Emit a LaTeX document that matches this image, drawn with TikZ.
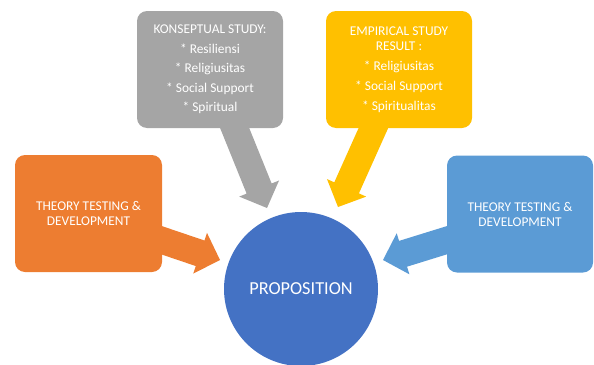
\documentclass[tikz,border=0pt]{standalone}
\usepackage{fontspec}
\setmainfont{Carlito}
\usetikzlibrary{calc}
\definecolor{cgray}{HTML}{A5A5A5}
\definecolor{cyellow}{HTML}{FFC000}
\definecolor{corange}{HTML}{ED7D31}
\definecolor{clight}{HTML}{5B9BD5}
\definecolor{cdark}{HTML}{4472C4}

\begin{document}
\begin{tikzpicture}[x=1pt,y=-1pt, every node/.style={font=\fontsize{13.4}{15}\selectfont,text=white,align=center},box/.style={rounded corners=10pt,minimum width=146pt,minimum height=117pt,inner sep=0pt},prop/.style={circle,fill=cdark,minimum size=154pt,inner sep=0pt,font=\fontsize{18.3}{21}\selectfont},]
\useasboundingbox (0,0) rectangle (594,364);
% arrow ends
\coordinate (o0) at (155,238);
\coordinate (o1) at (220,260);
\coordinate (g0) at (231,119);
\coordinate (g1) at (267,208);
\coordinate (y0) at (377,120);
\coordinate (y1) at (338,207);
\coordinate (b0) at (454,238);
\coordinate (b1) at (383,260);
\coordinate (ob) at ($(o1)!21pt!(o0)$);
\coordinate (gb) at ($(g1)!21pt!(g0)$);
\coordinate (yb) at ($(y1)!21pt!(y0)$);
\coordinate (bb) at ($(b1)!21pt!(b0)$);
\fill[corange] ($(o0)!13.5pt!90:(o1)$) -- ($(ob)!13.5pt!-90:(o0)$) -- ($(ob)!21.5pt!-90:(o0)$) -- (o1) -- ($(ob)!21.5pt!90:(o0)$) -- ($(ob)!13.5pt!90:(o0)$) -- ($(o0)!13.5pt!-90:(o1)$) -- cycle;
\fill[cgray] ($(g0)!13.5pt!90:(g1)$) -- ($(gb)!13.5pt!-90:(g0)$) -- ($(gb)!21.5pt!-90:(g0)$) -- (g1) -- ($(gb)!21.5pt!90:(g0)$) -- ($(gb)!13.5pt!90:(g0)$) -- ($(g0)!13.5pt!-90:(g1)$) -- cycle;
\fill[cyellow] ($(y0)!13.5pt!90:(y1)$) -- ($(yb)!13.5pt!-90:(y0)$) -- ($(yb)!21.5pt!-90:(y0)$) -- (y1) -- ($(yb)!21.5pt!90:(y0)$) -- ($(yb)!13.5pt!90:(y0)$) -- ($(y0)!13.5pt!-90:(y1)$) -- cycle;
\fill[clight] ($(b0)!13.5pt!90:(b1)$) -- ($(bb)!13.5pt!-90:(b0)$) -- ($(bb)!21.5pt!-90:(b0)$) -- (b1) -- ($(bb)!21.5pt!90:(b0)$) -- ($(bb)!13.5pt!90:(b0)$) -- ($(b0)!13.5pt!-90:(b1)$) -- cycle;
% boxes
\node[box,fill=cgray] (konsep) at (210,69.5) {KONSEPTUAL STUDY:\\[4.5pt] * Resiliensi\\[4.5pt] * Religiusitas\\[4.5pt] * Social Support\\[4.5pt] * Spiritual};
\node[box,fill=cyellow] (empiris) at (399,69.5) {EMPIRICAL STUDY\\RESULT :\\[5.5pt] * Religiusitas\\[5pt] * Social Support\\[5pt] * Spiritualitas};
\node[box,fill=corange,minimum width=147pt] (teoriL) at (88.5,213.5) {THEORY TESTING \&\\DEVELOPMENT};
\node[box,fill=clight] (teoriR) at (520,214) {THEORY TESTING \&\\DEVELOPMENT};
\node[prop] (prop) at (301,289) {PROPOSITION};
\end{tikzpicture}
\end{document}
